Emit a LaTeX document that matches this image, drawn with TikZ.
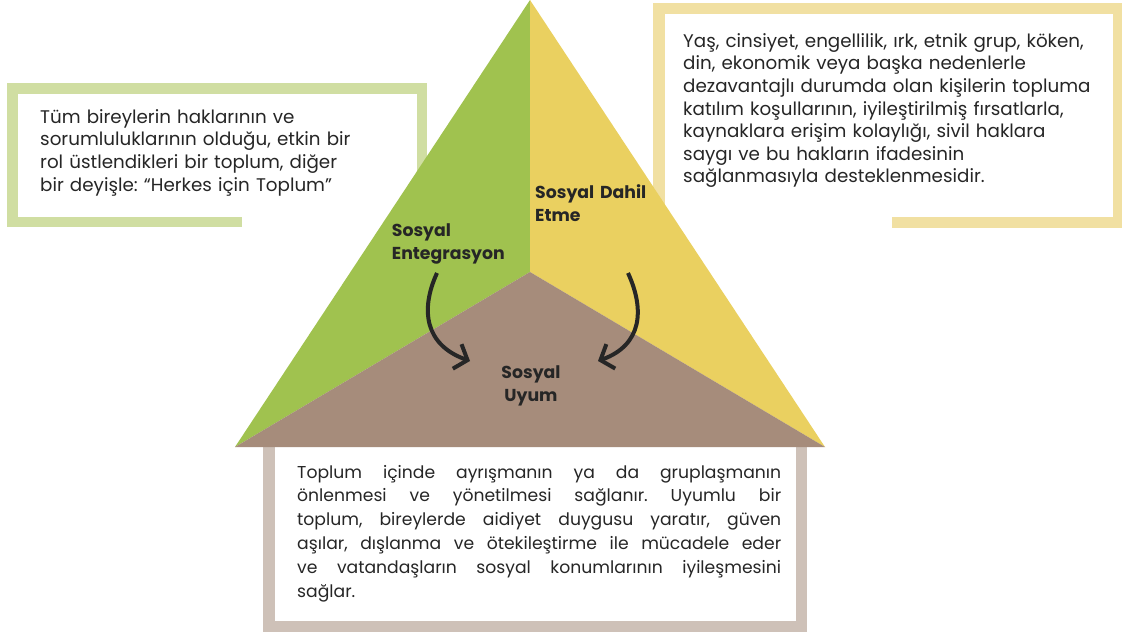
\documentclass[tikz,border=0pt]{standalone}
\usepackage{fontspec}
\setmainfont{Poppins}
\usetikzlibrary{arrows.meta}
\definecolor{tgreen}{HTML}{A0C24F}
\definecolor{tyellow}{HTML}{EAD060}
\definecolor{tbrown}{HTML}{A68C7B}
\definecolor{fgreen}{HTML}{D0DEA2}
\definecolor{fyellow}{HTML}{F1E0A2}
\definecolor{ftaupe}{HTML}{CEC1B8}
\definecolor{ink}{HTML}{262626}
\frenchspacing
\begin{document}
\begin{tikzpicture}[x=1pt,y=-1pt,
 body/.style={anchor=base west, inner sep=0pt, align=left, text=ink, font=\fontsize{18.3}{22.6}\selectfont},
 lbl/.style={anchor=base west, inner sep=0pt, align=left, text=ink, font=\bfseries\fontsize{17.3}{23}\selectfont},
 flow/.style={draw=ink, line width=4pt, -{Straight Barb[length=11pt,width=26pt]}}]
\useasboundingbox (0,0) rectangle (1122,636);
\fill[white] (0,0) rectangle (1122,636);
% left frame
\fill[fgreen] (7,83) rectangle (427,227);
\fill[white] (18,94) rectangle (417,217);
\fill[white] (242,216) rectangle (428,228);
% right frame
\fill[fyellow] (653,3) rectangle (1122,228);
\fill[white] (665,14) rectangle (1113,217);
\fill[white] (652,216) rectangle (892,229);
% bottom frame
\fill[ftaupe] (263,440) rectangle (807,632);
\fill[white] (275,440) rectangle (796,621);
% triangle
\fill[tgreen] (530,0) -- (530,272) -- (235,447) -- cycle;
\fill[tyellow] (530,0) -- (825,447) -- (530,272) -- cycle;
\fill[tbrown] (235,447) -- (530,272) -- (825,447) -- cycle;
% texts
\node[body, text width=390pt] (lefttxt) at (40,123.3)
 {Tüm bireylerin haklarının ve\\sorumluluklarının olduğu, etkin bir\\rol üstlendikleri bir toplum, diğer\\bir deyişle: “Herkes için Toplum”};
\node[body, text width=440pt] (righttxt) at (683,47.3)
 {Yaş, cinsiyet, engellilik, ırk, etnik grup, köken,\\din, ekonomik veya başka nedenlerle\\dezavantajlı durumda olan kişilerin topluma\\katılım koşullarının, iyileştirilmiş fırsatlarla,\\kaynaklara erişim kolaylığı, sivil haklara\\saygı ve bu hakların ifadesinin\\sağlanmasıyla desteklenmesidir.};
\node[body, text width=484pt, align=justify, font=\fontsize{17.2}{23.8}\selectfont] (bottomtxt) at (297,478)
 {Toplum içinde ayrışmanın ya da gruplaşmanın\linebreak önlenmesi ve yönetilmesi sağlanır. Uyumlu bir\linebreak toplum, bireylerde aidiyet duygusu yaratır, güven\linebreak aşılar, dışlanma ve ötekileştirme ile mücadele eder\linebreak ve vatandaşların sosyal konumlarının iyileşmesini\linebreak sağlar.};
\node[lbl, text width=130pt] (integ) at (391.7,236.7) {Sosyal\\Entegrasyon};
\node[lbl, text width=130pt] (dahil) at (535,198.3) {Sosyal Dahil\\Etme};
\node[lbl, text width=100pt, align=center, anchor=base] (uyum) at (531,378.3) {Sosyal\\Uyum};
% arrows
\coordinate (a1s) at (437,273);
\coordinate (a1e) at (470,361);
\coordinate (a2s) at (628,273);
\coordinate (a2e) at (598,361);
\draw[flow] (a1s) .. controls (420,310) and (425,345) .. (a1e);
\draw[flow] (a2s) .. controls (645,310) and (642,345) .. (a2e);
\end{tikzpicture}
\end{document}
